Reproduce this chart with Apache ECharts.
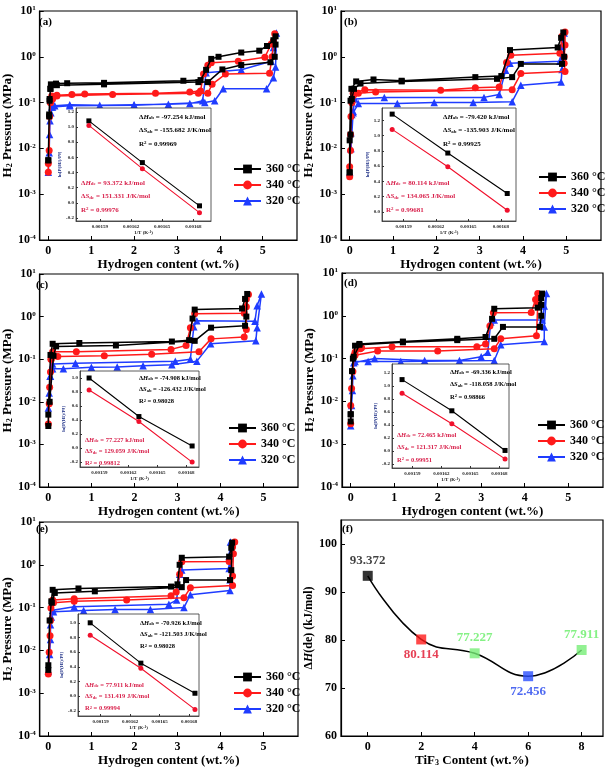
<!DOCTYPE html>
<html><head><meta charset="utf-8">
<script src="https://cdn.jsdelivr.net/npm/echarts@6/dist/echarts.min.js"></script>
<style>html,body{margin:0;padding:0;background:#fff}#c{width:611px;height:769px}</style>
</head><body><div id="c"></div>
<script>
// ---------------- DATA ----------------
const tempNames = ['360 °C', '340 °C', '320 °C'];
const hydrogenTicks = [0, 1, 2, 3, 4, 5];

// PCT loops: [hydrogen wt.%, pressure MPa]
const a360 = [[0.0,0.0055],[0.02,0.055],[0.03,0.12],[0.05,0.2],[0.06,0.25],[0.18,0.26],[0.44,0.265],[1.3,0.27],[3.15,0.3],[3.55,0.31],[3.68,0.52],[3.8,0.9],[3.97,1.0],[4.5,1.24],[4.92,1.36],[5.1,1.72],[5.25,2.3],[5.3,2.8],[5.3,1.85],[5.28,1.0],[5.18,0.76],[4.5,0.66],[4.06,0.53],[3.72,0.28],[3.5,0.28],[1.3,0.25],[0.2,0.24],[0.05,0.2],[0.03,0.11],[0.02,0.05],[0.0,0.0055]];
const a340 = [[0.0,0.003],[0.0,0.0047],[0.02,0.009],[0.03,0.05],[0.05,0.1],[0.08,0.14],[0.2,0.145],[0.55,0.15],[0.85,0.155],[2.5,0.16],[3.3,0.17],[3.55,0.18],[3.62,0.42],[3.72,0.65],[3.8,0.74],[4.43,0.8],[5.05,0.98],[5.2,1.9],[5.28,3.2],[5.25,2.2],[5.22,1.0],[5.16,0.44],[4.13,0.42],[3.82,0.25],[3.72,0.16],[3.5,0.16],[1.5,0.15],[0.2,0.14],[0.1,0.12],[0.05,0.1]];
const a320 = [[0.0,0.003],[0.02,0.008],[0.03,0.02],[0.04,0.04],[0.06,0.06],[0.08,0.08],[0.15,0.085],[0.5,0.09],[1.2,0.088],[2.0,0.09],[2.8,0.092],[3.3,0.095],[3.6,0.11],[3.68,0.45],[4.5,0.52],[5.2,0.8],[5.25,1.6],[5.32,3.3],[5.3,0.6],[5.25,0.35],[5.09,0.2],[4.08,0.2],[3.88,0.11],[3.65,0.1],[2.0,0.088],[0.5,0.085],[0.1,0.08]];

const b360 = [[0.0,0.003],[0.0,0.015],[0.02,0.11],[0.04,0.2],[0.15,0.29],[0.55,0.32],[1.2,0.3],[2.9,0.36],[3.5,0.38],[3.7,1.4],[4.8,1.6],[4.88,2.6],[4.93,3.4],[4.95,1.0],[4.9,0.7],[3.95,0.7],[3.75,0.36],[3.4,0.33],[1.2,0.29],[0.25,0.26],[0.1,0.2],[0.05,0.12],[0.02,0.02],[0.0,0.003]];
const b340 = [[0.0,0.0024],[0.0,0.004],[0.02,0.009],[0.03,0.05],[0.05,0.1],[0.08,0.16],[0.35,0.19],[2.1,0.185],[2.9,0.21],[3.45,0.22],[3.62,0.75],[3.72,1.08],[4.85,1.2],[4.9,2.8],[4.97,3.5],[4.97,1.8],[4.95,1.0],[4.95,0.72],[4.97,0.48],[3.95,0.43],[3.75,0.19],[0.6,0.17],[0.2,0.16],[0.05,0.1],[0.02,0.02]];
const b320 = [[0.0,0.003],[0.02,0.01],[0.03,0.022],[0.05,0.055],[0.08,0.065],[0.12,0.12],[0.8,0.13],[3.1,0.13],[3.45,0.15],[3.6,0.51],[3.7,0.72],[4.85,0.8],[4.9,1.7],[4.95,3.3],[4.92,0.9],[4.9,0.53],[4.88,0.28],[3.95,0.24],[3.75,0.105],[2.85,0.1],[1.95,0.1],[1.1,0.095],[0.2,0.095],[0.08,0.06],[0.03,0.01]];

const c360 = [[0.0,0.0027],[0.0,0.005],[0.05,0.126],[0.1,0.23],[0.72,0.24],[2.87,0.26],[3.27,0.28],[3.35,0.9],[3.4,1.46],[4.5,1.55],[4.57,2.6],[4.62,3.4],[4.6,1.0],[4.57,0.61],[3.78,0.55],[3.4,0.27],[1.57,0.21],[0.18,0.2],[0.12,0.12],[0.03,0.01]];
const c340 = [[0.0,0.003],[0.02,0.009],[0.03,0.022],[0.05,0.05],[0.06,0.1],[0.1,0.15],[0.65,0.15],[2.85,0.17],[3.2,0.21],[3.3,0.55],[3.4,1.17],[4.55,1.2],[4.6,2.6],[4.65,3.3],[4.6,1.7],[4.6,0.5],[4.55,0.33],[3.78,0.3],[3.5,0.15],[2.4,0.13],[1.3,0.12],[0.22,0.115],[0.07,0.1]];
const c320 = [[0.0,0.0072],[0.02,0.016],[0.04,0.04],[0.06,0.06],[0.1,0.077],[0.63,0.08],[2.95,0.09],[3.3,0.1],[3.38,0.58],[3.45,0.8],[4.8,0.78],[4.85,1.8],[4.95,3.4],[4.85,0.55],[4.82,0.27],[3.77,0.23],[3.45,0.09],[2.87,0.074],[2.2,0.07],[1.6,0.066],[1.0,0.065],[0.35,0.06],[0.1,0.06],[0.05,0.04]];

const d360 = [[0.0,0.0034],[0.0,0.005],[0.03,0.051],[0.07,0.11],[0.1,0.2],[0.2,0.22],[1.2,0.25],[2.45,0.29],[3.1,0.32],[3.25,0.85],[3.3,1.46],[4.3,1.55],[4.38,2.6],[4.4,3.3],[4.38,1.8],[4.38,1.0],[4.35,0.55],[3.5,0.55],[3.3,0.29],[2.45,0.27],[1.2,0.24],[0.2,0.21],[0.05,0.1],[0.0,0.005]];
const d340 = [[0.0,0.003],[0.0,0.008],[0.02,0.02],[0.05,0.05],[0.08,0.12],[0.1,0.14],[0.22,0.17],[0.25,0.18],[0.95,0.19],[2.9,0.19],[3.1,0.22],[3.2,0.58],[3.28,1.18],[4.15,1.2],[4.25,2.4],[4.3,3.3],[4.3,1.8],[4.27,0.34],[3.45,0.29],[3.3,0.17],[2.0,0.15],[0.62,0.15],[0.1,0.12]];
const d320 = [[0.0,0.0027],[0.02,0.008],[0.04,0.018],[0.05,0.04],[0.07,0.08],[0.55,0.1],[1.7,0.09],[2.5,0.09],[3.0,0.11],[3.15,0.14],[3.22,0.72],[3.3,0.8],[4.4,0.8],[4.45,1.7],[4.5,3.3],[4.45,0.55],[4.45,0.25],[3.45,0.21],[3.3,0.09],[1.15,0.085],[0.4,0.085],[0.1,0.085]];

const e360 = [[0.0,0.0035],[0.0,0.0045],[0.03,0.05],[0.07,0.14],[0.1,0.26],[0.7,0.28],[2.85,0.31],[3.0,0.35],[3.05,1.0],[3.1,1.46],[4.2,1.55],[4.25,2.5],[4.27,3.3],[4.25,0.75],[4.22,0.44],[3.2,0.44],[3.1,0.3],[1.08,0.24],[0.15,0.22],[0.08,0.13]];
const e340 = [[0.0,0.0028],[0.02,0.009],[0.04,0.022],[0.05,0.05],[0.06,0.098],[0.1,0.15],[0.6,0.16],[2.85,0.19],[2.97,0.23],[3.05,0.6],[3.1,1.18],[4.2,1.2],[4.28,2.6],[4.33,3.4],[4.3,1.8],[4.28,0.55],[4.28,0.33],[3.3,0.29],[3.15,0.17],[1.82,0.15],[0.6,0.14],[0.12,0.13]];
const e320 = [[0.0,0.0033],[0.03,0.008],[0.05,0.018],[0.05,0.04],[0.07,0.06],[0.1,0.087],[0.6,0.105],[2.8,0.12],[2.98,0.15],[3.05,0.6],[3.1,0.76],[4.2,0.82],[4.2,1.6],[4.23,3.4],[4.22,0.45],[4.22,0.25],[3.3,0.2],[3.15,0.1],[2.37,0.09],[1.55,0.09],[0.82,0.085],[0.12,0.08]];

// Van't Hoff insets: 1/T (x 1e-5 K^-1) and ln[P(H2)/P0]
const invT = [157.94, 163.09, 168.59];
const insetXTicks = [159, 162, 165, 168];
const aVhAb = [1.08, 0.53, -0.04], aVhDe = [1.02, 0.45, -0.13];
const bVhAb = [1.28, 0.77, 0.24], bVhDe = [1.08, 0.59, 0.02];
const cVhAb = [1.0, 0.45, 0.03],  cVhDe = [0.83, 0.38, -0.2];
const dVhAb = [1.1, 0.62, 0.01],  dVhDe = [0.89, 0.42, -0.12];
const eVhAb = [1.0, 0.45, 0.04],  eVhDe = [0.83, 0.38, -0.18];
const yTicksA = [-0.2, 0.0, 0.2, 0.4, 0.6, 0.8, 1.0, 1.2];
const yTicksB = [0.0, 0.2, 0.4, 0.6, 0.8, 1.0, 1.2];
const yTicksC = [-0.2, 0.0, 0.2, 0.4, 0.6, 0.8, 1.0];
const yTicksD = [-0.2, 0.0, 0.2, 0.4, 0.6, 0.8, 1.0, 1.2];
const yTicksE = [-0.2, 0.0, 0.2, 0.4, 0.6, 0.8, 1.0];
// [ΔH_ab, ΔS_ab, R²_ab, ΔH_de, ΔS_de, R²_de]
const aText = ['-97.254', '-155.682', '0.99969', '93.372', '151.331', '0.99976'];
const bText = ['-79.420', '-135.903', '0.99925', '80.114', '134.065', '0.99681'];
const cText = ['-74.908', '-126.432', '0.98028', '77.227', '129.059', '0.99812'];
const dText = ['-69.336', '-118.058', '0.98866', '72.465', '121.317', '0.99951'];
const eText = ['-70.926', '-121.503', '0.98028', '77.911', '131.419', '0.99994'];

// Panel (f)
const fTiF3 = [0, 2, 4, 6, 8];
const fDH = [93.372, 80.114, 77.227, 72.456, 77.911];
const fXTicks = [0, 2, 4, 6, 8];
const fYTicks = [60, 70, 80, 90, 100];

// ---------------- STYLE / LAYOUT ----------------
const SERIF = 'Liberation Serif';
const COLORS = ['#000000', '#ff1a1a', '#1f3cff'];
const SYMBOLS = ['rect', 'circle', 'triangle'];
const SYMSIZE = [6, 7, 7.5];
const RED_TXT = '#d81f4a';

const panels = [
  {letter:'(a)', series:[a360,a340,a320], ab:aVhAb, de:aVhDe, txt:aText, yt:yTicksA},
  {letter:'(b)', series:[b360,b340,b320], ab:bVhAb, de:bVhDe, txt:bText, yt:yTicksB},
  {letter:'(c)', series:[c360,c340,c320], ab:cVhAb, de:cVhDe, txt:cText, yt:yTicksC},
  {letter:'(d)', series:[d360,d340,d320], ab:dVhAb, de:dVhDe, txt:dText, yt:yTicksD},
  {letter:'(e)', series:[e360,e340,e320], ab:eVhAb, de:eVhDe, txt:eText, yt:yTicksE}
];
const mainGrids = [
  {left:36, top:11, width:261, height:229},
  {left:341, top:11, width:260, height:229},
  {left:34, top:274, width:264, height:213},
  {left:342, top:273, width:261, height:214},
  {left:33, top:522, width:265, height:214}
];
const fGrid = {left:341, top:520, width:262, height:216};
const insetGrids = [
  {left:76, top:108, width:135, height:113, xr:[156.7,169.7], yr:[-0.24,1.25]},
  {left:382, top:108, width:134, height:113, xr:[157.0,169.4], yr:[-0.12,1.36]},
  {left:80, top:371, width:119, height:96, xr:[157.0,169.3], yr:[-0.27,1.1]},
  {left:392, top:364, width:117, height:104, xr:[156.9,169.0], yr:[-0.26,1.34]},
  {left:78, top:614, width:121, height:102, xr:[156.7,169.0], yr:[-0.27,1.12]}
];
const legendPos = [[228,158],[533,166],[223,417],[532,414],[228,666]];
const letterPos = [[39,22],[344,22],[36,285],[344,283],[36,529],[342,529]];
const insetTextPos = [
  {bx:139, by:117, rx:81, ry:183, dy:13.5, fs:7},
  {bx:443, by:117, rx:386, ry:183, dy:13.5, fs:7},
  {bx:139, by:378, rx:85, ry:440, dy:11.7, fs:6.5},
  {bx:450, by:372, rx:397, ry:435, dy:12.5, fs:6.5},
  {bx:140, by:623, rx:85, ry:685, dy:11.8, fs:6.5}
];

const boldTxt = (size, color) => ({fontSize:size, fontWeight:'bold', fontFamily:SERIF, color:color || '#000'});

// ---------------- BUILD ----------------
const grid = [], xAxis = [], yAxis = [], series = [], legend = [], gElems = [];

mainGrids.forEach((g, i) => {
  grid.push(Object.assign({show:true, borderColor:'#000', borderWidth:1.2, backgroundColor:'transparent'}, g));
  xAxis.push({
    gridIndex:i, type:'value', min:-0.2, max:5.8,
    axisLine:{onZero:false, lineStyle:{color:'#000', width:1.2}},
    axisTick:{inside:true, length:4, customValues:hydrogenTicks, lineStyle:{color:'#000'}},
    axisLabel:Object.assign({customValues:hydrogenTicks, margin:5, formatter:v=>String(v)}, boldTxt(12)),
    splitLine:{show:false},
    name:'Hydrogen content (wt.%)', nameLocation:'middle', nameGap:14,
    nameTextStyle:boldTxt(13)
  });
  yAxis.push({
    gridIndex:i, type:'log', logBase:10, min:1e-4, max:10,
    axisLine:{onZero:false, lineStyle:{color:'#000', width:1.2}},
    axisTick:{inside:true, length:4, lineStyle:{color:'#000'}},
    minorTick:{show:false},
    axisLabel:{margin:4, formatter:v=>'{b|10}{s|' + Math.round(Math.log10(v)) + '}',
      rich:{b:boldTxt(12), s:Object.assign({verticalAlign:'top'}, boldTxt(7))}},
    splitLine:{show:false},
    name:'{b|H}{s|2}{b| Pressure (MPa)}', nameLocation:'middle', nameGap:17,
    nameTextStyle:{rich:{b:boldTxt(13), s:Object.assign({verticalAlign:'bottom'}, boldTxt(8))}}
  });
});

// panel f axes
grid.push(Object.assign({show:true, borderColor:'#000', borderWidth:1.2}, fGrid));
xAxis.push({
  gridIndex:5, type:'value', min:-1, max:8.8,
  axisLine:{onZero:false, lineStyle:{color:'#000', width:1.2}},
  axisTick:{inside:true, length:4, customValues:fXTicks, lineStyle:{color:'#000'}},
  axisLabel:Object.assign({customValues:fXTicks, margin:5, formatter:v=>String(v)}, boldTxt(12)),
  splitLine:{show:false},
  name:'{b|TiF}{s|3}{b| Content (wt.%)}', nameLocation:'middle', nameGap:14,
  nameTextStyle:{rich:{b:boldTxt(13), s:Object.assign({verticalAlign:'bottom'}, boldTxt(8))}}
});
yAxis.push({
  gridIndex:5, type:'value', min:60, max:105,
  axisLine:{onZero:false, lineStyle:{color:'#000', width:1.2}},
  axisTick:{inside:true, length:4, customValues:fYTicks, lineStyle:{color:'#000'}},
  axisLabel:Object.assign({customValues:fYTicks, margin:4, formatter:v=>String(v)}, boldTxt(12)),
  splitLine:{show:false},
  name:'{b|Δ}{i|H}{b|(de) (kJ/mol)}', nameLocation:'middle', nameGap:16,
  nameTextStyle:{rich:{b:boldTxt(12), i:Object.assign({fontStyle:'italic'}, boldTxt(12))}}
});

// insets
insetGrids.forEach((g, i) => {
  const gi = 6 + i;
  grid.push({left:g.left, top:g.top, width:g.width, height:g.height, show:true,
    borderColor:'#333', borderWidth:0.8, backgroundColor:'#fff', z:10});
  xAxis.push({
    gridIndex:gi, type:'value', min:g.xr[0], max:g.xr[1], z:10,
    axisLine:{onZero:false, lineStyle:{color:'#333', width:0.8}},
    axisTick:{inside:true, length:2, customValues:insetXTicks, lineStyle:{color:'#333'}},
    axisLabel:Object.assign({customValues:insetXTicks, margin:3, formatter:v=>(v/1e5).toFixed(5)}, boldTxt(5, '#222')),
    splitLine:{show:false},
    name:'{b|1/T (K}{s|-1}{b|)}', nameLocation:'middle', nameGap:9,
    nameTextStyle:{rich:{b:boldTxt(5,'#222'), s:Object.assign({verticalAlign:'top'}, boldTxt(3.5,'#222'))}}
  });
  yAxis.push({
    gridIndex:gi, type:'value', min:g.yr[0], max:g.yr[1], z:10,
    axisLine:{onZero:false, lineStyle:{color:'#333', width:0.8}},
    axisTick:{inside:true, length:2, customValues:panels[i].yt, lineStyle:{color:'#333'}},
    axisLabel:Object.assign({customValues:panels[i].yt, margin:2, formatter:v=>v.toFixed(1)}, boldTxt(5, '#222')),
    splitLine:{show:false},
    name:'{b|ln[P(H}{s|2}{b|)/P}{s|0}{b|]}', nameLocation:'middle', nameGap:9,
    nameTextStyle:{rich:{b:boldTxt(5,'#223388'), s:Object.assign({verticalAlign:'bottom'}, boldTxt(3.5,'#223388'))}}
  });
});

// main series
panels.forEach((p, i) => {
  p.series.forEach((d, k) => {
    series.push({
      type:'line', name:tempNames[k], xAxisIndex:i, yAxisIndex:i, data:d,
      symbol:SYMBOLS[k], symbolSize:SYMSIZE[k], showAllSymbol:true,
      lineStyle:{color:COLORS[k], width:1.5}, itemStyle:{color:COLORS[k]},
      z:3 - k * 0.1, animation:false
    });
  });
  [[p.ab, '#000', 'rect'], [p.de, '#f0102c', 'circle']].forEach(([vals, col, sym], k) => {
    series.push({
      type:'line', name:'vh' + i + k, xAxisIndex:6 + i, yAxisIndex:6 + i,
      data:invT.map((x, j) => [x, vals[j]]), symbol:sym, symbolSize:5,
      lineStyle:{color:col, width:1.1}, itemStyle:{color:col}, z:12, animation:false
    });
  });
  legend.push({
    left:legendPos[i][0], top:legendPos[i][1], orient:'vertical', data:tempNames,
    itemWidth:27, itemHeight:11, itemGap:4, selectedMode:false,
    textStyle:boldTxt(12)
  });
  gElems.push({type:'text', x:letterPos[i][0], y:letterPos[i][1],
    style:{text:p.letter, fontSize:11, fontWeight:'bold', fontFamily:SERIF, fill:'#000', verticalAlign:'middle'}});
  const tp = insetTextPos[i], t = p.txt, fs = tp.fs;
  const mkRich = (col) => ({
    d:{fontSize:fs, fontWeight:'bold', fontFamily:SERIF, fill:col},
    i:{fontSize:fs, fontWeight:'bold', fontStyle:'italic', fontFamily:SERIF, fill:col},
    s:{fontSize:fs*0.7, fontWeight:'bold', fontFamily:SERIF, fill:col, verticalAlign:'bottom'},
    p:{fontSize:fs*0.7, fontWeight:'bold', fontFamily:SERIF, fill:col, verticalAlign:'top'},
    t:{fontSize:fs, fontWeight:'bold', fontFamily:SERIF, fill:col}
  });
  const blk = ['{d|Δ}{i|H}{s|ab}{t| = ' + t[0] + ' kJ/mol}', '{d|Δ}{i|S}{s|ab}{t| = ' + t[1] + ' J/K/mol}', '{t|R}{p|2}{t| = ' + t[2] + '}'];
  const red = ['{d|Δ}{i|H}{s|de}{t| = ' + t[3] + ' kJ/mol}', '{d|Δ}{i|S}{s|de}{t| = ' + t[4] + ' J/K/mol}', '{t|R}{p|2}{t| = ' + t[5] + '}'];
  blk.forEach((s, j) => gElems.push({type:'text', x:tp.bx, y:tp.by + j * tp.dy, z:20,
    style:{text:s, rich:mkRich('#000'), fontSize:fs, fontFamily:SERIF, verticalAlign:'middle'}}));
  red.forEach((s, j) => gElems.push({type:'text', x:tp.rx, y:tp.ry + j * tp.dy, z:20,
    style:{text:s, rich:mkRich(RED_TXT), fontSize:fs, fontFamily:SERIF, verticalAlign:'middle'}}));
});
gElems.push({type:'text', x:letterPos[5][0], y:letterPos[5][1],
  style:{text:'(f)', fontSize:11, fontWeight:'bold', fontFamily:SERIF, fill:'#000', verticalAlign:'middle'}});

// panel f series
const fMarker = ['#000000', '#ff1a1a', '#77ee77', '#2a4fff', '#77ee77'];
const fLabelCol = ['#111111', '#e0102a', '#66ee66', '#2244ee', '#66ee66'];
const fLabelPos = ['top', 'bottom', 'top', 'bottom', 'top'];
series.push({
  type:'line', name:'fcurve', xAxisIndex:5, yAxisIndex:5, smooth:0.45, showSymbol:false,
  data:fTiF3.map((x, i) => [x, fDH[i]]), lineStyle:{color:'#000', width:1.5}, z:2, animation:false
});
series.push({
  type:'scatter', name:'fpts', xAxisIndex:5, yAxisIndex:5, symbol:'rect', symbolSize:10, z:3,
  data:fTiF3.map((x, i) => ({value:[x, fDH[i]], itemStyle:{color:fMarker[i]},
    label:{show:true, position:fLabelPos[i], distance:4, color:fLabelCol[i], formatter:fDH[i].toFixed(3),
      fontSize:13, fontWeight:'bold', fontFamily:SERIF}})),
  animation:false
});

const chart = echarts.init(document.getElementById('c'), null, {renderer:'canvas'});
chart.setOption({
  animation:false, backgroundColor:'#fff',
  grid, xAxis, yAxis, series, legend,
  graphic:{elements:gElems}
});
</script></body></html>
